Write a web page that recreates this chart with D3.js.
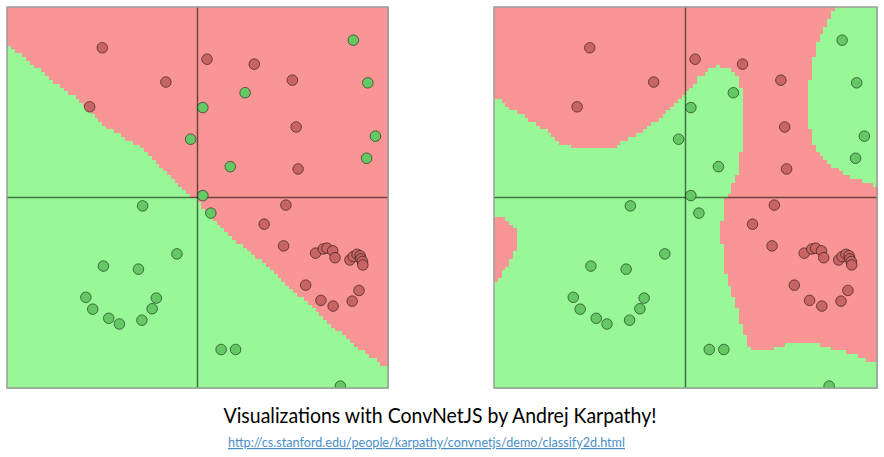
<!DOCTYPE html>
<html>
<head>
<meta charset="utf-8">
<script src="https://cdn.jsdelivr.net/npm/d3@7"></script>
<style>
  body { margin: 0; background: #fff; }
  svg { display: block; }
</style>
</head>
<body>
<svg id="chart" width="884" height="457"></svg>
<script>
// training points, same set in both panels (x, y in data units)
const redPoints = [
  [-2.50, 3.93], [-0.83, 3.03], [-2.83, 2.38], [0.25, 3.63], [1.49, 3.50],
  [2.49, 3.08], [2.59, 1.85], [2.64, 0.75], [2.32, -0.20], [1.75, -0.70],
  [2.26, -1.27], [2.84, -2.30], [3.24, -2.70], [3.56, -2.85], [4.06, -2.72],
  [4.24, -2.44], [3.10, -1.46], [3.30, -1.35], [3.40, -1.33], [3.55, -1.40],
  [3.61, -1.58], [4.00, -1.64], [4.09, -1.55], [4.19, -1.49], [4.27, -1.53],
  [4.29, -1.61], [4.33, -1.68], [4.34, -1.77]
];
const greenPoints = [
  [-0.18, 1.53], [4.09, 4.13], [4.47, 3.01], [1.25, 2.75], [0.14, 2.36],
  [4.67, 1.61], [4.44, 1.03], [0.86, 0.81], [0.14, 0.05], [0.35, -0.41],
  [-1.44, -0.22], [-0.54, -1.48], [-2.47, -1.80], [-1.55, -1.88], [-2.93, -2.62],
  [-1.08, -2.64], [-2.75, -2.93], [-1.19, -2.92], [-2.33, -3.17], [-2.05, -3.32],
  [-1.46, -3.22], [0.62, -3.99], [1.00, -3.99], [3.75, -4.95]
];

// red decision region of the linear classifier (left panel)
const linearRed = [
  [-5.2, 5.2], [5.2, 5.2], [5.2, -4.6], [4.19, -3.92], [3.29, -3.14],
  [2.43, -2.35], [1.56, -1.56], [0.67, -0.85], [-0.01, -0.07], [-0.64, 0.46],
  [-1.51, 1.33], [-2.56, 1.96], [-2.90, 2.38], [-3.79, 3.08], [-4.48, 3.61],
  [-5.2, 4.25]
];

// red decision regions of the neural net (right panel)
const netRed = [
  [-5.2, 5.2], [3.93, 5.2], [3.84, 4.82], [3.66, 4.56], [3.53, 4.30],
  [3.40, 3.95], [3.32, 3.60], [3.23, 2.99], [3.19, 2.29], [3.27, 1.68],
  [3.40, 1.24], [3.66, 0.98], [4.01, 0.72], [4.36, 0.54], [4.71, 0.41],
  [5.2, 0.25], [5.2, -4.42], [4.71, -4.25], [4.36, -4.08], [3.93, -3.99],
  [3.66, -3.91], [3.40, -3.82], [2.79, -3.82], [2.36, -3.91], [2.18, -3.99],
  [1.70, -3.99], [1.57, -3.64], [1.44, -3.29], [1.31, -2.68], [1.18, -2.42],
  [1.05, -1.98], [1.05, -1.29], [0.94, -1.24], [0.94, -0.68], [1.05, -0.02],
  [1.18, 0.20], [1.22, 0.37], [1.40, 0.63], [1.44, 1.20], [1.53, 1.24],
  [1.53, 2.73], [1.40, 3.08], [1.26, 3.34], [0.87, 3.47], [0.61, 3.34],
  [0.35, 3.16], [0.00, 2.73], [-0.26, 2.47], [-0.52, 2.20], [-0.87, 1.94],
  [-1.22, 1.68], [-1.57, 1.51], [-1.83, 1.33], [-2.97, 1.33], [-3.32, 1.46],
  [-3.49, 1.68], [-3.84, 1.90], [-4.19, 2.12], [-4.54, 2.34], [-4.80, 2.55],
  [-5.2, 2.75]
];
const netRedPatch = [
  [-5.2, -0.38], [-4.80, -0.50], [-4.63, -0.59], [-4.45, -0.76], [-4.36, -0.94],
  [-4.36, -1.24], [-4.45, -1.37], [-4.58, -1.64], [-4.71, -1.90], [-4.89, -2.12],
  [-5.2, -2.32]
];

const titleText = 'Visualizations with ConvNetJS by Andrej Karpathy!';
const linkText = 'http://cs.stanford.edu/people/karpathy/convnetjs/demo/classify2d.html';

const panels = [
  { left: 7, width: 381, regions: [linearRed] },
  { left: 494, width: 383, regions: [netRed, netRedPatch] }
];
const panelTop = 7;
const panelSize = 381;
const gridN = 100;
const redFill = '#f99594';
const greenFill = '#98f897';

const svg = d3.select('#chart');

panels.forEach((p, k) => {
  const x = d3.scaleLinear().domain([-5, 5]).range([p.left, p.left + p.width]);
  const y = d3.scaleLinear().domain([-5, 5]).range([panelTop + panelSize, panelTop]);
  const g = svg.append('g');

  g.append('clipPath').attr('id', 'clip' + k)
    .append('rect')
    .attr('x', p.left).attr('y', panelTop)
    .attr('width', p.width).attr('height', panelSize);

  // pixelated decision surface: classify each grid cell, merge runs per row
  const step = 10 / gridN;
  const isRed = (cx, cy) => p.regions.some(poly => d3.polygonContains(poly, [cx, cy]));
  const runs = [];
  for (let j = 0; j < gridN; j++) {
    const y0 = -5 + j * step;
    let start = 0;
    let cur = isRed(-5 + step / 2, y0 + step / 2);
    for (let i = 1; i <= gridN; i++) {
      const c = i < gridN ? isRed(-5 + (i + 0.5) * step, y0 + step / 2) : !cur;
      if (c !== cur) {
        runs.push({ x0: -5 + start * step, x1: -5 + i * step, y0: y0, y1: y0 + step, red: cur });
        start = i;
        cur = c;
      }
    }
  }
  g.append('g')
    .attr('shape-rendering', 'crispEdges')
    .selectAll('rect')
    .data(runs)
    .join('rect')
    .attr('x', d => x(d.x0))
    .attr('y', d => y(d.y1))
    .attr('width', d => x(d.x1) - x(d.x0) + 0.5)
    .attr('height', d => y(d.y0) - y(d.y1) + 0.5)
    .attr('fill', d => d.red ? redFill : greenFill);

  // axes through the origin
  g.append('line')
    .attr('x1', x(0)).attr('x2', x(0))
    .attr('y1', panelTop).attr('y2', panelTop + panelSize)
    .attr('stroke', '#000').attr('stroke-opacity', 0.55).attr('stroke-width', 1.5);
  g.append('line')
    .attr('x1', p.left).attr('x2', p.left + p.width)
    .attr('y1', y(0)).attr('y2', y(0))
    .attr('stroke', '#000').attr('stroke-opacity', 0.55).attr('stroke-width', 1.5);

  const pts = g.append('g').attr('clip-path', `url(#clip${k})`);
  pts.selectAll('circle.red')
    .data(redPoints)
    .join('circle')
    .attr('class', 'red')
    .attr('cx', d => x(d[0])).attr('cy', d => y(d[1]))
    .attr('r', 5.3)
    .attr('fill', 'rgb(200,100,100)')
    .attr('stroke', '#000').attr('stroke-opacity', 0.5);
  pts.selectAll('circle.green')
    .data(greenPoints)
    .join('circle')
    .attr('class', 'green')
    .attr('cx', d => x(d[0])).attr('cy', d => y(d[1]))
    .attr('r', 5.3)
    .attr('fill', 'rgb(100,200,100)')
    .attr('stroke', '#000').attr('stroke-opacity', 0.5);

  g.append('rect')
    .attr('x', p.left).attr('y', panelTop)
    .attr('width', p.width).attr('height', panelSize)
    .attr('fill', 'none')
    .attr('stroke', '#9a9a9a').attr('stroke-width', 1.5);
});

svg.append('text')
  .attr('x', 440).attr('y', 423)
  .attr('text-anchor', 'middle')
  .attr('font-family', 'Lato, sans-serif')
  .attr('font-size', 21)
  .attr('textLength', 433)
  .attr('lengthAdjust', 'spacingAndGlyphs')
  .attr('fill', '#000')
  .text(titleText);

svg.append('text')
  .attr('x', 426.5).attr('y', 447)
  .attr('text-anchor', 'middle')
  .attr('font-family', 'Lato, sans-serif')
  .attr('font-size', 12.5)
  .attr('textLength', 397)
  .attr('lengthAdjust', 'spacingAndGlyphs')
  .attr('fill', '#4a8fc6')
  .attr('text-decoration', 'underline')
  .text(linkText);
</script>
</body>
</html>
